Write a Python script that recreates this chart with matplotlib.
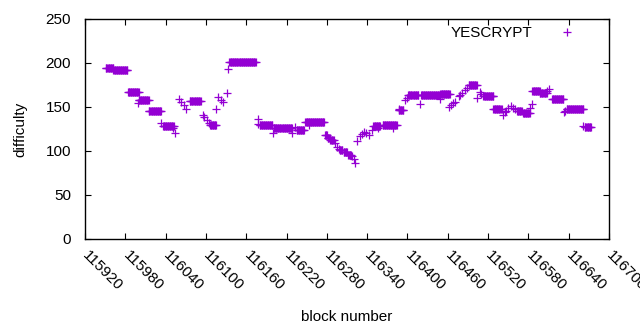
import numpy as np
import matplotlib
matplotlib.use("Agg")
import matplotlib.pyplot as plt

# flat stretches of constant difficulty (first block, last block, value)
run_start = [115951, 115962, 115984, 116000, 116015, 116036, 116076, 116106,
             116135, 116180, 116201, 116235, 116248, 116277, 116281, 116285,
             116299, 116305, 116312, 116349, 116363, 116387, 116401, 116420,
             116449, 116491, 116513, 116528, 116563, 116572, 116586, 116597,
             116615, 116637, 116664]
run_end = [115962, 115983, 116000, 116015, 116033, 116052, 116092, 116115,
           116174, 116199, 116228, 116246, 116276, 116280, 116284, 116290,
           116303, 116310, 116316, 116359, 116384, 116394, 116416, 116448,
           116463, 116503, 116528, 116540, 116570, 116582, 116597, 116607,
           116632, 116662, 116673]
run_value = [194.0, 191.7, 166.7, 157.6, 145.0, 128.0, 156.5, 129.0,
             200.8, 129.2, 125.8, 123.5, 133.0, 117.8, 114.4, 112.5,
             101.5, 99.0, 96.0, 128.0, 130.0, 147.0, 163.3, 163.3,
             164.4, 174.7, 162.2, 147.4, 145.8, 142.8, 167.8, 165.5,
             158.7, 147.4, 126.9]

# scattered single blocks
single_block = [115999, 116033, 116051, 116054, 116060, 116063, 116067, 116071,
                116095, 116097, 116101, 116105, 116115, 116118, 116122, 116126,
                116131, 116133, 116177, 116178, 116200, 116228, 116233, 116254,
                116292, 116295, 116298, 116318, 116320, 116322, 116325, 116329,
                116332, 116336, 116338, 116343, 116347, 116356, 116378, 116387,
                116396, 116399, 116419, 116448, 116462, 116465, 116468, 116471,
                116476, 116478, 116481, 116486, 116488, 116504, 116508, 116510,
                116542, 116545, 116547, 116550, 116554, 116557, 116560, 116583,
                116585, 116608, 116611, 116633, 116635, 116661]
single_value = [154.5, 131.5, 126.0, 120.8, 158.7, 156.0, 152.0, 147.7,
                141.0, 139.0, 135.0, 132.0, 147.4, 161.0, 158.0, 156.0,
                165.6, 192.8, 136.0, 131.0, 121.0, 121.0, 127.6, 129.5,
                108.7, 105.0, 102.0, 94.7, 90.6, 86.7, 111.7, 117.0,
                119.0, 122.0, 121.0, 118.0, 124.0, 126.0, 126.0, 147.4,
                158.0, 160.0, 153.4, 158.7, 150.4, 152.0, 154.0, 156.0,
                162.5, 164.0, 166.3, 169.3, 172.0, 159.9, 167.4, 165.0,
                141.0, 144.7, 146.0, 148.5, 151.0, 149.0, 147.7, 149.0,
                153.4, 168.0, 171.0, 144.7, 146.0, 128.4]

x_ticks = list(range(115920, 116701, 60))
y_ticks = [0, 50, 100, 150, 200, 250]

blocks = []
values = []
for s, e, v in zip(run_start, run_end, run_value):
    for b in range(s, e + 1):
        blocks.append(b)
        values.append(v)
blocks += single_block
values += single_value

plt.rcParams["font.family"] = ["Liberation Sans", "DejaVu Sans"]

fig = plt.figure(figsize=(6.4, 3.3), dpi=100)
ax = fig.add_axes([85 / 640, 1 - 239 / 330, 524 / 640, 220 / 330])

ax.plot(blocks, values, linestyle="none", marker="+", color="#9400d3",
        markersize=5.5, markeredgewidth=0.9, label="YESCRYPT")

ax.set_xlim(115920, 116700)
ax.set_ylim(0, 250)
ax.set_xticks(x_ticks)
ax.set_yticks(y_ticks)
ax.set_xticklabels([str(t) for t in x_ticks], rotation=-45, ha="left",
                   va="center", rotation_mode="anchor", fontsize=11)
ax.tick_params(axis="y", labelsize=11, pad=10)
ax.tick_params(direction="in", length=4, width=0.8, top=True, right=True,
               color="black")
ax.tick_params(axis="x", pad=10)
for sp in ax.spines.values():
    sp.set_linewidth(1.0)

ax.set_xlabel("block number", fontsize=11, labelpad=12)
ax.set_ylabel("difficulty", fontsize=11, labelpad=13)

ax.legend(loc="upper right", frameon=False, markerfirst=False, fontsize=11,
          handlelength=2.5, handletextpad=1.0, bbox_to_anchor=(0.973, 1.01),
          borderaxespad=0.2)

fig.savefig("out.png", dpi=100)
